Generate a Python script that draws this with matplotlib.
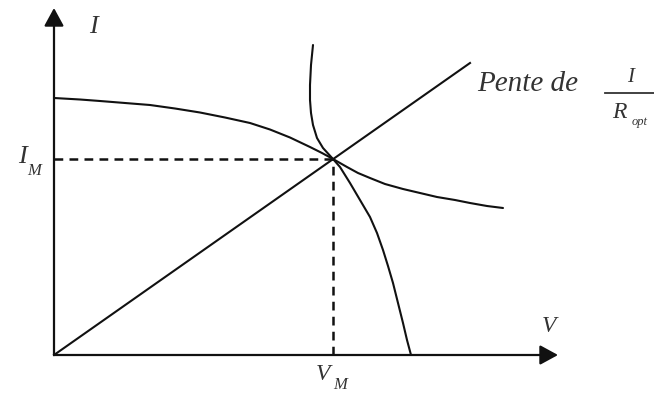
import matplotlib.pyplot as plt
from matplotlib.patches import FancyArrowPatch

# ── Curve data (V, I in drawing units, origin at the axes corner) ────────────
iv_v = [0, 26, 46, 71, 96, 121, 146, 171, 196, 216, 236, 256, 268, 279,
        286, 296, 306, 316, 323, 329, 334, 339, 344, 349, 353, 357]
iv_i = [257, 255.5, 254, 252, 250, 246.5, 242.5, 237.5, 232, 225.5, 217.5, 208, 202, 196,
        188, 172, 155, 138, 122, 105, 89, 72, 52, 32, 15, 0]

pw_v = [259, 257, 256, 256, 257, 259, 263, 269, 279, 286, 293,
        304, 316, 331, 349, 366, 383, 401, 416, 433, 449]
pw_i = [310, 290, 270, 255, 242, 230, 217, 207, 196, 192, 188,
        182, 177, 171, 166, 162, 158, 155, 152, 149, 147]

load_v = [0, 416]
load_i = [0, 292]

V_M, I_M = 279, 196

INK = "#111111"
TXT = "#333333"

fig = plt.figure(figsize=(6.54, 3.99), dpi=100)
ax = fig.add_axes([0, 0, 1, 1])
ax.set_xlim(-54, 600)
ax.set_ylim(-44, 355)
ax.axis("off")

# axes with arrow heads
for start, end in [((0, 0), (0, 347)), ((0, 0), (504, 0))]:
    ax.add_patch(FancyArrowPatch(start, end, arrowstyle="-|>,head_length=0.55,head_width=0.3",
                                 mutation_scale=20, color=INK, lw=1.6, shrinkA=0, shrinkB=0))

ax.plot(iv_v, iv_i, color=INK, lw=1.5, solid_capstyle="round", solid_joinstyle="round")
ax.plot(pw_v, pw_i, color=INK, lw=1.5, solid_capstyle="round", solid_joinstyle="round")
ax.plot(load_v, load_i, color=INK, lw=1.5)

# operating point projections
ax.plot([0, V_M], [I_M, I_M], color=INK, lw=1.8, ls=(0, (3.5, 2.5)))
ax.plot([V_M, V_M], [0, I_M], color=INK, lw=1.8, ls=(0, (3.5, 2.5)))

font = dict(family="Liberation Serif", style="italic", color=TXT)
ax.text(39, 328, "I", fontsize=19, ha="center", va="center", **font)
ax.text(-32, 198, "I", fontsize=19, ha="center", va="center", **font)
ax.text(-20, 184, "M", fontsize=12, ha="center", va="center", **font)
ax.text(495, 28, "V", fontsize=17, ha="center", va="center", **font)
ax.text(269, -20, "V", fontsize=17, ha="center", va="center", **font)
ax.text(286, -30, "M", fontsize=12, ha="center", va="center", **font)
ax.text(474, 271, "Pente de", fontsize=21, ha="center", va="center", **font)
ax.text(577, 277, "I", fontsize=15, ha="center", va="center", **font)
ax.plot([551, 600], [262, 262], color=TXT, lw=1.3)
ax.text(565, 242, "R", fontsize=17, ha="center", va="center", **font)
ax.text(586, 233, "opt", fontsize=9, ha="center", va="center", **font)

fig.savefig("out.png", dpi=100, facecolor="white")
